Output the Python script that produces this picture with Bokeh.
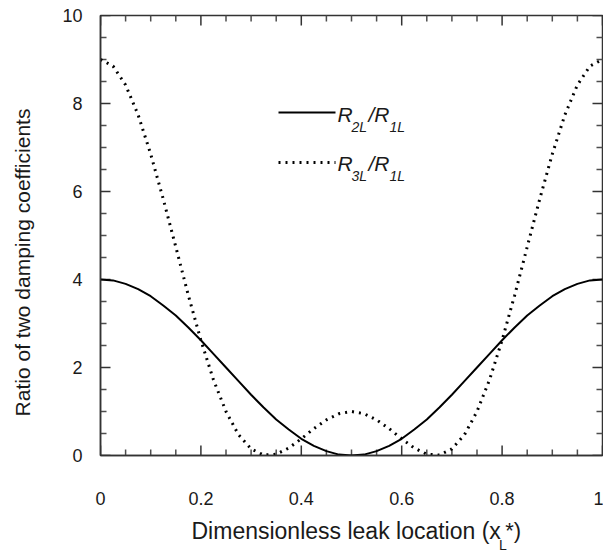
import math
from bokeh.plotting import figure
from bokeh.layouts import column, row
from bokeh.models import FixedTicker, Range1d
from bokeh.core.properties import value
from bokeh.embed import file_html
from bokeh.resources import INLINE

# ---- data ----
x_loc = [0.000, 0.025, 0.050, 0.075, 0.100, 0.125, 0.150, 0.175, 0.200, 0.225,
         0.250, 0.275, 0.300, 0.325, 0.350, 0.375, 0.400, 0.425, 0.450, 0.475,
         0.500, 0.525, 0.550, 0.575, 0.600, 0.625, 0.650, 0.675, 0.700, 0.725,
         0.750, 0.775, 0.800, 0.825, 0.850, 0.875, 0.900, 0.925, 0.950, 0.975,
         1.000]
ratio_r2 = [4.00, 3.98, 3.90, 3.78, 3.62, 3.41, 3.18, 2.91, 2.62, 2.31,
            2.00, 1.69, 1.38, 1.09, 0.82, 0.59, 0.38, 0.22, 0.10, 0.02,
            0.00, 0.02, 0.10, 0.22, 0.38, 0.59, 0.82, 1.09, 1.38, 1.69,
            2.00, 2.31, 2.62, 2.91, 3.18, 3.41, 3.62, 3.78, 3.90, 3.98,
            4.00]
ratio_r3 = [9.00, 8.85, 8.42, 7.74, 6.85, 5.83, 4.74, 3.64, 2.62, 1.72,
            1.00, 0.47, 0.15, 0.01, 0.03, 0.17, 0.38, 0.61, 0.81, 0.95,
            1.00, 0.95, 0.81, 0.61, 0.38, 0.17, 0.03, 0.01, 0.15, 0.47,
            1.00, 1.72, 2.62, 3.64, 4.74, 5.83, 6.85, 7.74, 8.42, 8.85,
            9.00]
x_ticks = [0, 0.2, 0.4, 0.6, 0.8, 1]
x_tick_labels = ["0", "0.2", "0.4", "0.6", "0.8", "1"]
x_minor = [0.05, 0.1, 0.15, 0.25, 0.3, 0.35, 0.45, 0.5, 0.55, 0.65, 0.7, 0.75, 0.85, 0.9, 0.95]
y_ticks = [0, 2, 4, 6, 8, 10]
y_tick_labels = ["0", "2", "4", "6", "8", "10"]
y_minor = [0.5, 1, 1.5, 2.5, 3, 3.5, 4.5, 5, 5.5, 6.5, 7, 7.5, 8.5, 9, 9.5]

# ---- page layout (pixels of the 603 x 553 page) ----
W, H = 603, 553
SW = 40            # left strip holding the y-axis title
H1 = 512           # main figure height
H2 = H - H1        # bottom strip holding the x-axis title
L, R, T, B = 100, 602, 15, 455   # plot frame on the page
FONT = "Liberation Sans"
INK = "#1a1a1a"

p = figure(width=W - SW, height=H1, x_range=Range1d(0, 1), y_range=Range1d(0, 10),
           output_backend="svg", toolbar_location=None,
           min_border_left=L - SW, min_border_right=W - R,
           min_border_top=T, min_border_bottom=H1 - B,
           background_fill_color="white", border_fill_color="white")
p.xgrid.visible = False
p.ygrid.visible = False
p.outline_line_color = "#333333"
p.outline_line_width = 1.5


def style_axis(ax, ticks, labels, standoff):
    ax.ticker = FixedTicker(ticks=ticks, minor_ticks=[])
    ax.major_tick_in = 0
    ax.major_tick_out = 0
    ax.minor_tick_in = 0
    ax.minor_tick_out = 0
    ax.axis_line_color = "#333333"
    ax.axis_line_width = 1.5
    ax.major_label_overrides = {t: s for t, s in zip(ticks, labels)}
    ax.major_label_text_font = FONT
    ax.major_label_text_font_size = "18px"
    ax.major_label_text_color = INK
    ax.major_label_standoff = standoff


style_axis(p.xaxis[0], x_ticks, x_tick_labels, 36)
style_axis(p.yaxis[0], y_ticks, y_tick_labels, 18)

# inward tick marks on all four sides: dash markers centred on the frame edge,
# the outer half is clipped away by the frame
MAJ, MIN = 10, 6
tick_specs = ((x_ticks, y_ticks, MAJ, "#333333"), (x_minor, y_minor, MIN, "#4d4d4d"))
for xt, yt, ln, col in tick_specs:
    n, m = len(xt), len(yt)
    for edge in (0.0, 10.0):
        p.scatter(x=xt, y=[edge] * n, marker="dash", size=2 * ln, angle=math.pi / 2,
                  line_color=col, line_width=1.5)
    for edge in (0.0, 1.0):
        p.scatter(x=[edge] * m, y=yt, marker="dash", size=2 * ln,
                  line_color=col, line_width=1.5)

# ---- curves ----
p.line(x_loc, ratio_r2, line_color="black", line_width=2)
p.line(x_loc, ratio_r3, line_color="black", line_width=3, line_dash="2 5")


def px2x(px):
    return (px - L) / (R - L)


def py2y(py):
    return (B - py) / (B - T) * 10


def txt(fig, xs, ys, s, size, style="normal", align="left", angle=0.0):
    fig.text(x=[xs], y=[ys], text=[s], text_font=value(FONT),
             text_font_size=size, text_font_style=style, text_color=INK,
             text_align=align, text_baseline="middle", angle=angle)


# ---- legend ----
p.line([px2x(278), px2x(335)], [py2y(112), py2y(112)], line_color="black", line_width=2)
p.line([px2x(278), px2x(335)], [py2y(162), py2y(162)], line_color="black", line_width=3, line_dash="2 5")
for mid, sub_a in ((113.5, "2L"), (162.5, "3L")):
    txt(p, px2x(337), py2y(mid), "R", "21px", "italic")
    txt(p, px2x(351), py2y(mid + 12.5), sub_a, "14px", "italic")
    txt(p, px2x(368), py2y(mid), "/R", "21px", "italic")
    txt(p, px2x(389), py2y(mid + 12.5), "1L", "14px", "italic")


def strip(width, height, x0, y0):
    f = figure(width=width, height=height, x_range=Range1d(x0, x0 + width),
               y_range=Range1d(y0 + height, y0), x_axis_type=None, y_axis_type=None,
               output_backend="svg", toolbar_location=None,
               min_border_left=0, min_border_right=0, min_border_top=0, min_border_bottom=0,
               background_fill_color="white", border_fill_color="white")
    f.xgrid.visible = False
    f.ygrid.visible = False
    f.outline_line_color = None
    return f


# ---- y-axis title strip (page pixel coordinates) ----
ps = strip(SW, H, 0, 0)
txt(ps, 22, 262, "Ratio of two damping coefficients", "21px", align="center", angle=math.pi / 2)

# ---- x-axis title strip (page pixel coordinates) ----
p2 = strip(W - SW, H2, SW, H1)
txt(p2, 489, 530, "Dimensionless leak location (x", "23px", align="right")
txt(p2, 487, 544, "L", "14px")
txt(p2, 494, 530, "*)", "22px")

page = row(ps, column(p, p2, spacing=0), spacing=0)
open("out.html", "w").write(file_html(page, INLINE))
